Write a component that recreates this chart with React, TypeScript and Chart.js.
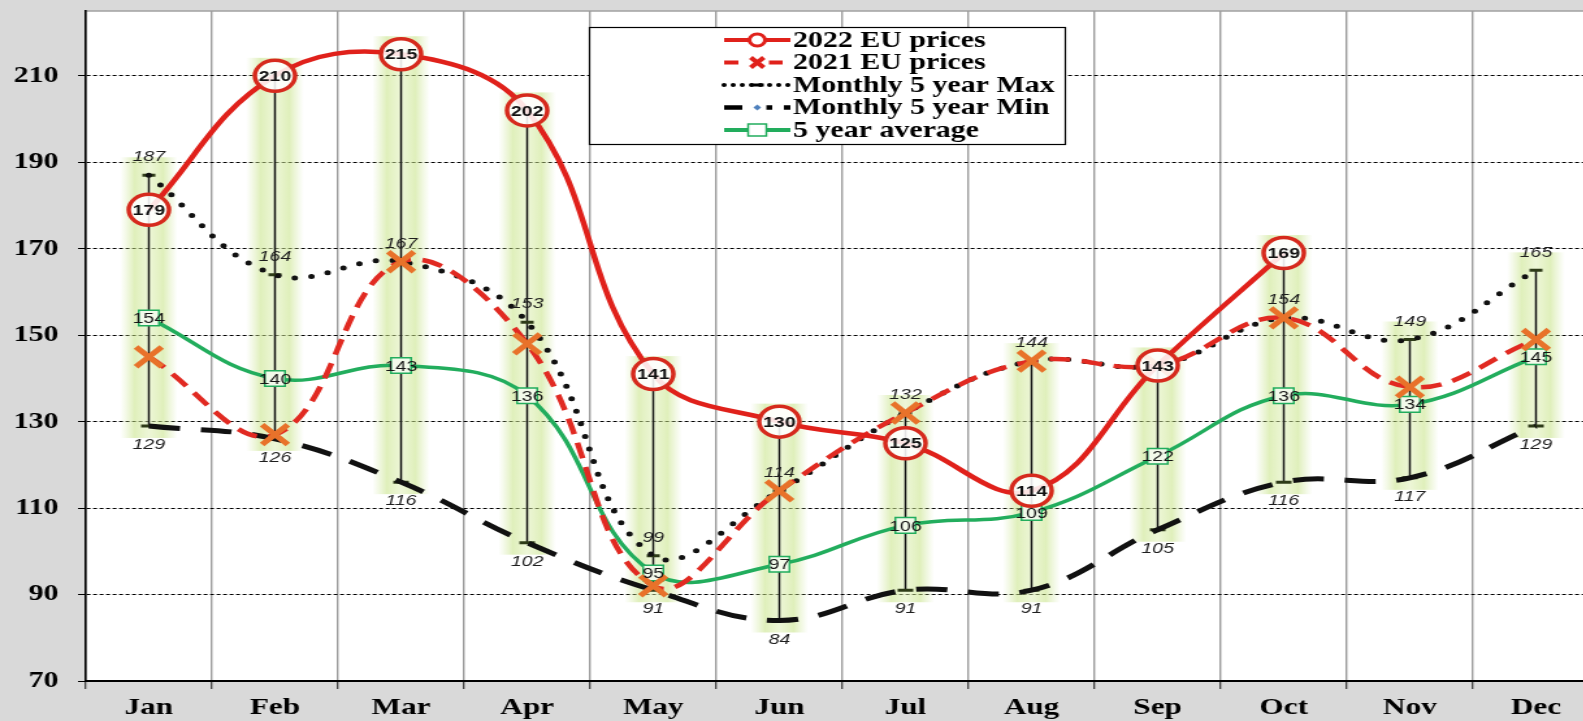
import React, { useEffect, useRef } from "react";
import { Chart, registerables } from "chart.js";

Chart.register(...registerables);

// ---------- data ----------
const months = ["Jan", "Feb", "Mar", "Apr", "May", "Jun", "Jul", "Aug", "Sep", "Oct", "Nov", "Dec"];
const prices2022: (number | null)[] = [179, 210, 215, 202, 141, 130, 125, 114, 143, 169, null, null];
const prices2021: number[] = [145, 127, 167, 148, 92, 114, 132, 144, 143, 154, 138, 149];
const max5: number[] = [187, 164, 167, 153, 99, 114, 132, 144, 143, 154, 149, 165];
const min5: number[] = [129, 126, 116, 102, 91, 84, 91, 91, 105, 116, 117, 129];
const avg5: number[] = [154, 140, 143, 136, 95, 97, 106, 109, 122, 136, 134, 145];
const yTicks: number[] = [70, 90, 110, 130, 150, 170, 190, 210];
const yMin = 70;
const yMax = 225;
const seriesNames: string[] = [
  "2022 EU prices",
  "2021 EU prices",
  "Monthly 5 year Max",
  "Monthly 5 year Min",
  "5 year average",
];

// ---------- layout / style ----------
const PAGE_W = 1583;
const FULL_H = 721;
const CANVAS_CSS_W = 1599; // plot area runs slightly past the right edge of the page
const STRETCH = 1.3;
const W = Math.round(CANVAS_CSS_W / STRETCH);
const RED = "#e0211b";
const ORANGE = "#e8722a";
const GREEN = "#22ad5d";
const SERIF = '"Liberation Serif", "Times New Roman", serif';
const SANS = '"Liberation Sans", Arial, sans-serif';

const bgPlugin = {
  id: "bgPlugin",
  beforeDraw(chart: any) {
    const { ctx, chartArea } = chart;
    ctx.save();
    ctx.fillStyle = "#ffffff";
    ctx.fillRect(chartArea.left, chartArea.top, chartArea.right - chartArea.left, chartArea.bottom - chartArea.top);
    ctx.strokeStyle = "#a0a0a0";
    ctx.lineWidth = 1.5;
    ctx.beginPath();
    ctx.moveTo(chartArea.left, chartArea.top);
    ctx.lineTo(chartArea.right, chartArea.top);
    ctx.stroke();
    ctx.restore();
  },
};

const bandPlugin = {
  id: "bandPlugin",
  beforeDatasetsDraw(chart: any) {
    const { ctx } = chart;
    const xs = chart.scales.x;
    const ys = chart.scales.y;
    ctx.save();
    months.forEach((_, i) => {
      const cx = xs.getPixelForValue(i);
      const p22 = prices2022[i];
      const topVal = p22 != null ? Math.max(p22, max5[i]) : max5[i];
      const yTop = ys.getPixelForValue(topVal);
      const yBot = ys.getPixelForValue(min5[i]);
      const half = 22;
      const g = ctx.createLinearGradient(cx - half, 0, cx + half, 0);
      g.addColorStop(0, "rgba(205,230,150,0)");
      g.addColorStop(0.25, "rgba(198,227,132,0.55)");
      g.addColorStop(0.5, "rgba(220,238,176,0.5)");
      g.addColorStop(0.75, "rgba(198,227,132,0.55)");
      g.addColorStop(1, "rgba(205,230,150,0)");
      ctx.fillStyle = g;
      ctx.fillRect(cx - half, yTop - 18, half * 2, yBot - yTop + 30);
      // high-low line
      ctx.strokeStyle = "#111";
      ctx.lineWidth = 1.5;
      ctx.beginPath();
      ctx.moveTo(cx, yTop);
      ctx.lineTo(cx, yBot);
      ctx.stroke();
      // caps / small markers
      ctx.strokeStyle = "#2e3b18";
      ctx.lineWidth = 3;
      const yMx = ys.getPixelForValue(max5[i]);
      ctx.beginPath();
      ctx.moveTo(cx - 5, yMx);
      ctx.lineTo(cx + 5, yMx);
      ctx.moveTo(cx - 6, yBot);
      ctx.lineTo(cx + 6, yBot);
      ctx.stroke();
    });
    ctx.restore();
  },
};

const labelPlugin = {
  id: "labelPlugin",
  afterDatasetsDraw(chart: any) {
    const { ctx } = chart;
    const m22 = chart.getDatasetMeta(0);
    const mMax = chart.getDatasetMeta(2);
    const mMin = chart.getDatasetMeta(3);
    const mAvg = chart.getDatasetMeta(4);
    ctx.save();
    ctx.textAlign = "center";
    ctx.textBaseline = "middle";
    // average labels
    ctx.font = `15px ${SANS}`;
    ctx.fillStyle = "#151515";
    avg5.forEach((v, i) => {
      const p = mAvg.data[i];
      ctx.fillText(String(v), p.x, p.y + 1);
    });
    // max labels
    ctx.font = `italic 15px ${SANS}`;
    ctx.fillStyle = "#1e1e1e";
    max5.forEach((v, i) => {
      const p22 = prices2022[i];
      if (p22 != null && Math.abs(p22 - v) < 4) return;
      const p = mMax.data[i];
      ctx.fillText(String(v), p.x, p.y - 18);
    });
    // min labels
    min5.forEach((v, i) => {
      const p = mMin.data[i];
      ctx.fillText(String(v), p.x, p.y + 19);
    });
    // 2022 labels
    ctx.font = `bold 15px ${SANS}`;
    ctx.fillStyle = "#111";
    prices2022.forEach((v, i) => {
      if (v == null) return;
      const p = m22.data[i];
      ctx.fillText(String(v), p.x, p.y + 1);
    });
    ctx.restore();
  },
};

const legendPlugin = {
  id: "customLegend",
  afterDraw(chart: any) {
    const { ctx } = chart;
    const bx = 453;
    const by = 27;
    const bw = 366;
    const bh = 117;
    ctx.save();
    ctx.fillStyle = "#ffffff";
    ctx.fillRect(bx, by, bw, bh);
    ctx.strokeStyle = "#000";
    ctx.lineWidth = 1.2;
    ctx.strokeRect(bx + 0.5, by + 0.5, bw, bh);
    const rowY = [40, 62.5, 85, 107.5, 130];
    const x1 = 557;
    const x2 = 608;
    const xm = (x1 + x2) / 2;
    seriesNames.forEach((name, i) => {
      const y = rowY[i];
      ctx.save();
      ctx.beginPath();
      if (i === 0) {
        ctx.strokeStyle = RED; ctx.lineWidth = 4;
      } else if (i === 1) {
        ctx.strokeStyle = RED; ctx.lineWidth = 4; ctx.setLineDash([11, 6]);
      } else if (i === 2) {
        ctx.strokeStyle = "#000"; ctx.lineWidth = 4; ctx.lineCap = "round"; ctx.setLineDash([0, 7]);
      } else if (i === 3) {
        ctx.strokeStyle = "#000"; ctx.lineWidth = 4.5; ctx.setLineDash([14, 9]);
      } else {
        ctx.strokeStyle = GREEN; ctx.lineWidth = 4;
      }
      ctx.moveTo(x1, y);
      ctx.lineTo(x2, y);
      ctx.stroke();
      ctx.restore();
      // markers
      ctx.save();
      if (i === 0) {
        ctx.beginPath();
        ctx.arc(xm, y, 6, 0, Math.PI * 2);
        ctx.fillStyle = "#fff"; ctx.fill();
        ctx.strokeStyle = RED; ctx.lineWidth = 3; ctx.stroke();
      } else if (i === 1) {
        ctx.fillStyle = "#fff"; ctx.fillRect(xm - 9, y - 4, 18, 8);
        ctx.strokeStyle = RED; ctx.lineWidth = 4;
        ctx.beginPath();
        ctx.moveTo(xm - 5, y - 5); ctx.lineTo(xm + 5, y + 5);
        ctx.moveTo(xm + 5, y - 5); ctx.lineTo(xm - 5, y + 5);
        ctx.stroke();
      } else if (i === 2) {
        ctx.strokeStyle = "#000"; ctx.lineWidth = 3;
        ctx.beginPath(); ctx.moveTo(xm - 5, y); ctx.lineTo(xm + 5, y); ctx.stroke();
      } else if (i === 3) {
        ctx.fillStyle = "#fff"; ctx.fillRect(xm - 7, y - 3, 14, 6);
        ctx.fillStyle = "#4f81bd";
        ctx.beginPath();
        ctx.moveTo(xm, y - 3); ctx.lineTo(xm + 3, y); ctx.lineTo(xm, y + 3); ctx.lineTo(xm - 3, y);
        ctx.closePath(); ctx.fill();
      } else {
        ctx.fillStyle = "#fff"; ctx.fillRect(xm - 7, y - 6, 14, 12);
        ctx.strokeStyle = GREEN; ctx.lineWidth = 1.5; ctx.strokeRect(xm - 7, y - 6, 14, 12);
      }
      ctx.restore();
      ctx.fillStyle = "#000";
      ctx.font = `bold 23px ${SERIF}`;
      ctx.textAlign = "left";
      ctx.textBaseline = "middle";
      ctx.fillText(name, 610, y + 1);
    });
    ctx.restore();
  },
};

export default function App() {
  const canvasRef = useRef<HTMLCanvasElement | null>(null);

  useEffect(() => {
    if (!canvasRef.current) return;
    const chart = new Chart(canvasRef.current, {
      type: "line",
      data: {
        labels: months,
        datasets: [
          {
            label: seriesNames[0],
            data: prices2022,
            borderColor: RED,
            borderWidth: 4.5,
            tension: 0.4,
            pointStyle: "circle",
            pointRadius: 15.5,
            pointBorderWidth: 3.5,
            pointBorderColor: "#d62a1d",
            pointBackgroundColor: "rgba(255,255,255,0.88)",
            spanGaps: false,
          },
          {
            label: seriesNames[1],
            data: prices2021,
            borderColor: "#e12a22",
            borderWidth: 4.5,
            borderDash: [16, 9],
            tension: 0.4,
            pointStyle: "crossRot",
            pointRadius: 14,
            pointBorderWidth: 5,
            pointBorderColor: ORANGE,
            pointBackgroundColor: ORANGE,
          },
          {
            label: seriesNames[2],
            data: max5,
            borderColor: "#111",
            borderWidth: 5,
            borderDash: [0, 13],
            borderCapStyle: "round",
            tension: 0.4,
            pointRadius: 0,
          },
          {
            label: seriesNames[3],
            data: min5,
            borderColor: "#111",
            borderWidth: 5,
            borderDash: [24, 16],
            tension: 0.4,
            pointRadius: 0,
          },
          {
            label: seriesNames[4],
            data: avg5,
            borderColor: GREEN,
            borderWidth: 3.5,
            tension: 0.4,
            pointStyle: "rect",
            pointRadius: 11,
            pointBorderWidth: 1.5,
            pointBorderColor: GREEN,
            pointBackgroundColor: "#f2faea",
          },
        ],
      },
      options: {
        responsive: false,
        devicePixelRatio: 1,
        animation: false,
        events: [],
        layout: { autoPadding: false, padding: { top: 11, left: 0, right: 0, bottom: 0 } },
        plugins: {
          legend: { display: false },
          tooltip: { enabled: false },
        },
        scales: {
          x: {
            type: "category",
            offset: true,
            grid: {
              offset: true,
              color: "#9c9c9c",
              lineWidth: 1.4,
              tickLength: 8,
              tickColor: "#333",
              tickWidth: 1.2,
            },
            border: { color: "#000", width: 2 },
            ticks: {
              color: "#000",
              padding: 4,
              font: { family: SERIF, size: 24, weight: "bold" },
              maxRotation: 0,
              autoSkip: false,
            },
            afterFit: (s: any) => {
              s.height = 40;
              s.paddingLeft = 0;
              s.paddingRight = 0;
            },
          },
          y: {
            min: yMin,
            max: yMax,
            afterBuildTicks: (axis: any) => {
              axis.ticks = yTicks.map((v) => ({ value: v }));
            },
            grid: {
              color: "#000",
              lineWidth: 1,
              tickLength: 6,
              tickColor: "#000",
              tickWidth: 1,
            },
            border: { color: "#000", width: 1.6, dash: [3, 2] },
            ticks: {
              color: "#000",
              padding: 15,
              font: { family: SERIF, size: 23, weight: "bold" },
            },
            afterFit: (s: any) => {
              s.width = 66;
              s.paddingTop = 0;
              s.paddingBottom = 0;
            },
          },
        },
      },
      plugins: [bgPlugin, bandPlugin, labelPlugin, legendPlugin],
    } as any);
    return () => chart.destroy();
  }, []);

  return (
    <div
      style={{
        position: "fixed",
        left: 0,
        top: 0,
        width: PAGE_W,
        height: FULL_H,
        background: "#d9d9d9",
        overflow: "hidden",
      }}
    >
      <canvas
        ref={canvasRef}
        width={W}
        height={FULL_H}
        style={{ width: `${CANVAS_CSS_W}px`, height: `${FULL_H}px`, display: "block" }}
      />
    </div>
  );
}
